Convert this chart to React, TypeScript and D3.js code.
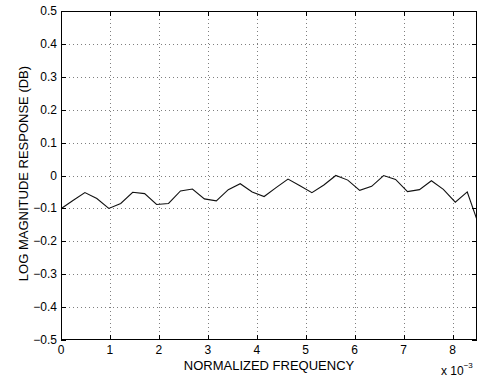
import React, { useEffect, useRef } from 'react';
import * as d3 from 'd3';

// magnitude response samples, one per FFT bin (bin / 4096 normalized freq)
const binIndex = [0, 1, 2, 3, 4, 5, 6, 7, 8, 9, 10, 11, 12, 13, 14, 15, 16, 17,
  18, 19, 20, 21, 22, 23, 24, 25, 26, 27, 28, 29, 30, 31, 32, 33, 34, 35];
const magDb = [-0.101, -0.076, -0.052, -0.070, -0.100, -0.085, -0.051, -0.055, -0.088,
  -0.085, -0.047, -0.041, -0.071, -0.077, -0.043, -0.025, -0.050, -0.064,
  -0.037, -0.011, -0.031, -0.052, -0.029, 0.000, -0.014, -0.045, -0.033,
  0.000, -0.012, -0.049, -0.043, -0.016, -0.042, -0.081, -0.050, -0.154];
const binsPerUnit = 4096;

const xTicks = [0, 1, 2, 3, 4, 5, 6, 7, 8];
const yTicks = [-0.5, -0.4, -0.3, -0.2, -0.1, 0, 0.1, 0.2, 0.3, 0.4, 0.5];

export default function App() {
  const svgRef = useRef<SVGSVGElement>(null);

  useEffect(() => {
    if (!svgRef.current) return;
    const svg = d3.select(svgRef.current);
    svg.selectAll("*").remove();

    const left = 61, right = 477, top = 11, bottom = 340;
    const font = "'Liberation Sans', Arial, sans-serif";

    // x axis shown in units of 1e-3
    const x = d3.scaleLinear().domain([0, 8.5]).range([left, right]);
    const y = d3.scaleLinear().domain([-0.5, 0.5]).range([bottom, top]);

    const data = binIndex.map((k, i) => ({ f: (k / binsPerUnit) * 1000, v: magDb[i] }));

    svg.append("rect")
      .attr("x", 0).attr("y", 0).attr("width", 482).attr("height", 379)
      .attr("fill", "#fff");

    // dotted grid
    const grid = svg.append("g")
      .attr("stroke", "#7f7f7f")
      .attr("stroke-width", 1)
      .attr("stroke-dasharray", "1,3")
      .attr("shape-rendering", "crispEdges");
    grid.selectAll("line.gx")
      .data(xTicks.filter(t => t > 0))
      .enter().append("line")
      .attr("x1", d => Math.round(x(d)) + 0.5).attr("x2", d => Math.round(x(d)) + 0.5)
      .attr("y1", top).attr("y2", bottom);
    grid.selectAll("line.gy")
      .data(yTicks.filter(t => t > -0.5 && t < 0.5))
      .enter().append("line")
      .attr("x1", left).attr("x2", right)
      .attr("y1", d => Math.round(y(d)) + 0.5).attr("y2", d => Math.round(y(d)) + 0.5);

    // clipped response line
    svg.append("clipPath").attr("id", "plotclip")
      .append("rect")
      .attr("x", left).attr("y", top)
      .attr("width", right - left).attr("height", bottom - top);

    const line = d3.line<any>()
      .x(d => x(d.f))
      .y(d => y(d.v));

    svg.append("path")
      .datum(data)
      .attr("clip-path", "url(#plotclip)")
      .attr("fill", "none")
      .attr("stroke", "#111")
      .attr("stroke-width", 1.1)
      .attr("d", line);

    // box + inward ticks on all sides
    const axes = svg.append("g")
      .attr("stroke", "#000")
      .attr("stroke-width", 1)
      .attr("shape-rendering", "crispEdges");
    axes.append("rect")
      .attr("x", left + 0.5).attr("y", top + 0.5)
      .attr("width", right - left - 1).attr("height", bottom - top - 1)
      .attr("fill", "none");
    const tl = 5;
    xTicks.forEach(t => {
      const px = Math.round(x(t)) + 0.5;
      axes.append("line").attr("x1", px).attr("x2", px).attr("y1", bottom).attr("y2", bottom - tl);
      axes.append("line").attr("x1", px).attr("x2", px).attr("y1", top).attr("y2", top + tl);
    });
    yTicks.forEach(t => {
      const py = Math.round(y(t)) + 0.5;
      axes.append("line").attr("x1", left).attr("x2", left + tl).attr("y1", py).attr("y2", py);
      axes.append("line").attr("x1", right).attr("x2", right - tl).attr("y1", py).attr("y2", py);
    });

    // tick labels
    svg.selectAll("text.xt")
      .data(xTicks)
      .enter().append("text")
      .attr("x", d => x(d))
      .attr("y", bottom + 14)
      .attr("text-anchor", "middle")
      .style("font-family", font)
      .style("font-size", "12px")
      .text(d => String(d));

    svg.selectAll("text.yt")
      .data(yTicks)
      .enter().append("text")
      .attr("x", left - 4)
      .attr("y", d => y(d) + 4)
      .attr("text-anchor", "end")
      .style("font-family", font)
      .style("font-size", "12px")
      .text(d => (d === 0 ? "0" : d3.format(".1f")(d).replace("-", "\u2212")));

    // axis titles
    svg.append("text")
      .attr("x", (left + right) / 2)
      .attr("y", 370)
      .attr("text-anchor", "middle")
      .style("font-family", font)
      .style("font-size", "13px")
      .text("NORMALIZED FREQUENCY");

    svg.append("text")
      .attr("transform", `translate(28,${(top + bottom) / 2 - 2}) rotate(-90)`)
      .attr("text-anchor", "middle")
      .style("font-family", font)
      .style("font-size", "13px")
      .text("LOG MAGNITUDE RESPONSE (DB)");

    // exponent label
    const ex = svg.append("text")
      .attr("x", 441)
      .attr("y", 375)
      .style("font-family", font)
      .style("font-size", "12px");
    ex.append("tspan").text("x 10");
    ex.append("tspan").attr("dy", -7).style("font-size", "8px").text("\u22123");
  }, []);

  return (
    <svg ref={svgRef} width={482} height={379}
      style={{ position: 'absolute', left: 0, top: 0, display: 'block' }} />
  );
}
